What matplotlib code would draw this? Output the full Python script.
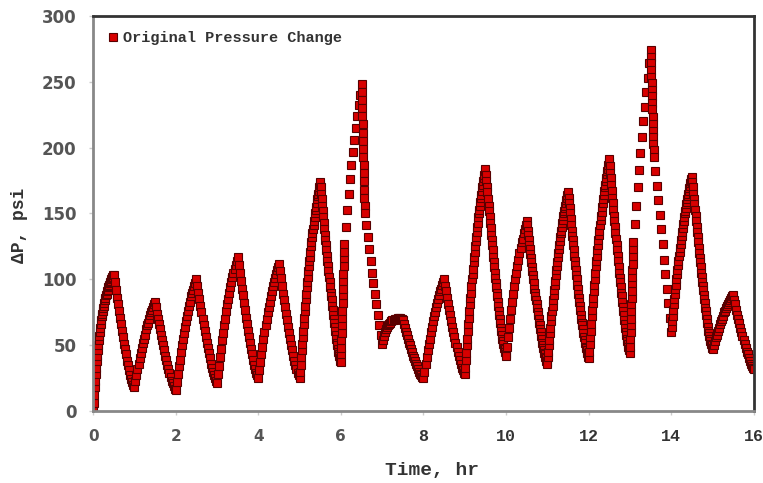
import numpy as np
import matplotlib.pyplot as plt
from matplotlib.font_manager import FontProperties

# Pressure change (psi) logged in half-hour rate periods.
# Each list holds the readings inside one period (start time in the name, hr);
# readings are evenly spaced within a period, except the four fast-logged ones.
dp_start = 0
p00 = [6, 12, 18, 23, 28, 33, 38, 42, 46, 50, 54, 57, 60, 63, 66, 69, 72, 74, 76, 78,
       80, 82, 84, 86, 88, 89, 91, 92, 94, 95, 96, 97, 98, 99, 100, 101, 102, 102, 103, 103]
p05 = [98, 92, 86, 81, 76, 71, 66, 61, 56, 51, 47, 43, 38, 35, 31, 27, 24, 22, 20, 18]
p10 = [23, 27, 32, 36, 40, 44, 48, 52, 55, 58, 62, 65, 67, 70, 73, 75, 77, 79, 81, 83]
p15 = [79, 74, 70, 66, 62, 58, 54, 50, 46, 42, 39, 35, 32, 29, 26, 23, 21, 19, 17, 16]
p20 = [22, 28, 34, 39, 45, 50, 55, 59, 64, 68, 72, 76, 80, 83, 87, 90, 92, 95, 97, 100]
p25 = [95, 90, 85, 80, 75, 70, 65, 61, 56, 52, 48, 44, 40, 36, 33, 30, 27, 25, 23, 21]
p30 = [28, 34, 41, 47, 54, 59, 65, 70, 76, 81, 85, 90, 94, 98, 102, 105, 108, 111, 114, 117]
p35 = [111, 105, 99, 93, 88, 82, 77, 71, 66, 61, 56, 52, 47, 43, 39, 35, 32, 29, 27, 25]
p40 = [31, 37, 43, 49, 55, 60, 65, 70, 75, 79, 83, 87, 91, 95, 98, 101, 104, 107, 109, 112]
p45 = [106, 101, 95, 89, 84, 79, 74, 69, 64, 59, 55, 50, 46, 42, 38, 35, 32, 29, 27, 25]
p50 = [30, 35, 41, 46, 51, 56, 61, 66, 71, 76, 80, 85, 89, 94, 98, 102, 106, 110, 114, 117,
       121, 125, 128, 132, 135, 138, 141, 144, 147, 150, 153, 155, 158, 161, 163, 165, 167, 170, 172, 174]
p55 = [170, 165, 161, 156, 152, 147, 143, 138, 134, 130, 126, 122, 118, 114, 110, 106, 102, 98, 94, 90,
       87, 84, 80, 77, 73, 70, 67, 64, 61, 58, 55, 52, 50, 47, 45, 43, 42, 40, 38, 37]
p60 = [43, 48, 54, 59, 65, 71, 76, 82, 88, 93, 99, 104, 110, 116, 121, 127,
       140, 153, 165, 176, 187, 197, 206, 215, 224, 232, 240, 248]
p65 = [242, 236, 230, 224, 218, 211, 205, 199, 193, 187, 181, 175, 168, 162, 156, 150,
       141, 132, 123, 114, 105, 97, 89, 81, 73, 65, 58, 51]
p70 = [54, 57, 60, 62, 64, 65, 66, 67, 68, 69, 69, 70, 70, 70, 71, 71, 71, 70, 70, 69]
p75 = [66, 63, 60, 58, 55, 52, 50, 47, 45, 42, 40, 38, 36, 34, 32, 30, 28, 27, 26, 25]
p80 = [30, 36, 41, 46, 51, 55, 60, 64, 68, 72, 75, 79, 82, 85, 88, 91, 93, 96, 98, 100]
p85 = [95, 91, 86, 81, 77, 73, 68, 64, 60, 56, 52, 49, 45, 42, 39, 36, 33, 31, 29, 28]
p90 = [33, 39, 44, 50, 55, 61, 66, 71, 76, 81, 86, 90, 95, 100, 104, 108, 113, 117, 121, 125,
       129, 132, 136, 140, 143, 147, 150, 153, 156, 159, 162, 164, 167, 170, 172, 175, 177, 179, 182, 184]
p95 = [179, 175, 170, 166, 161, 156, 152, 147, 143, 139, 134, 130, 126, 122, 117, 113, 109, 105, 101, 97,
       94, 90, 87, 83, 80, 76, 73, 70, 67, 63, 61, 58, 55, 53, 51, 48, 47, 45, 43, 42]
p100 = [49, 56, 63, 70, 77, 83, 89, 95, 100, 105, 110, 115, 120, 124, 128, 131, 135, 138, 141, 144]
p105 = [141, 137, 134, 130, 126, 123, 119, 116, 113, 109, 106, 103, 100, 97, 93, 90, 87, 84, 81, 78,
        75, 73, 70, 67, 65, 62, 60, 57, 55, 52, 50, 48, 46, 44, 43, 41, 40, 38, 37, 36]
p110 = [41, 45, 50, 54, 59, 63, 68, 72, 76, 80, 84, 88, 92, 96, 99, 103, 107, 110, 113, 117,
        120, 123, 126, 129, 132, 135, 137, 140, 143, 145, 148, 150, 152, 154, 156, 158, 160, 162, 164, 166]
p115 = [162, 158, 154, 150, 146, 141, 137, 133, 130, 126, 122, 118, 114, 111, 107, 103, 100, 96, 93, 89,
        86, 83, 80, 77, 73, 70, 67, 65, 62, 59, 56, 54, 52, 49, 48, 46, 44, 43, 41, 40]
p120 = [45, 51, 56, 61, 66, 72, 77, 82, 86, 91, 96, 100, 105, 110, 114, 118, 122, 126, 130, 134,
        137, 141, 145, 148, 151, 155, 158, 161, 164, 167, 170, 172, 175, 177, 180, 182, 184, 187, 189, 191]
p125 = [186, 181, 177, 172, 167, 162, 158, 153, 148, 144, 140, 135, 131, 126, 122, 118, 114, 109, 105, 101,
        98, 94, 90, 87, 83, 79, 76, 73, 69, 66, 63, 60, 58, 55, 53, 51, 49, 47, 46, 44]
p130 = [49, 55, 60, 65, 70, 76, 81, 86, 91, 97, 102, 107, 112, 118, 123, 128,
        142, 156, 170, 183, 196, 208, 220, 231, 242, 253, 264, 274]
p135 = [269, 264, 259, 254, 249, 244, 239, 234, 229, 223, 218, 213, 208, 203, 198, 193,
        182, 171, 160, 149, 138, 127, 115, 104, 93, 82, 71, 60]
p140 = [64, 68, 72, 77, 81, 85, 89, 93, 96, 100, 104, 107, 111, 114, 118, 121, 124, 127, 130, 133,
        136, 139, 142, 144, 147, 150, 152, 154, 157, 159, 161, 163, 165, 167, 169, 171, 173, 175, 176, 178]
p145 = [174, 170, 165, 161, 157, 153, 148, 144, 140, 136, 132, 128, 124, 120, 116, 113, 109, 105, 102, 98,
        95, 92, 88, 85, 82, 78, 76, 73, 70, 67, 64, 61, 59, 57, 55, 53, 51, 50, 48, 47]
p150 = [50, 53, 56, 58, 61, 63, 66, 68, 70, 72, 75, 76, 78, 80, 81, 83, 84, 86, 87, 88]
p155 = [84, 81, 77, 73, 70, 67, 63, 60, 57, 54, 51, 48, 45, 43, 40, 38, 36, 34, 33, 32]

# time (hr) after period start for the fast-logged periods
fast_offsets = [0.005, 0.01, 0.015, 0.02, 0.025, 0.03, 0.035, 0.04, 0.045, 0.05, 0.055, 0.06,
                0.065, 0.07, 0.075, 0.08, 0.115, 0.15, 0.185, 0.22, 0.255, 0.29, 0.325, 0.36,
                0.395, 0.43, 0.465, 0.5]
period = 0.5

periods = [p00, p05, p10, p15, p20, p25, p30, p35, p40, p45, p50, p55, p60, p65, p70, p75,
           p80, p85, p90, p95, p100, p105, p110, p115, p120, p125, p130, p135, p140, p145, p150, p155]

x_ticks = [0, 2, 4, 6, 8, 10, 12, 14, 16]
y_ticks = [0, 50, 100, 150, 200, 250, 300]

time = [0.0]
dp = [dp_start]
for k, vals in enumerate(periods):
    if len(vals) == len(fast_offsets):
        offs = np.array(fast_offsets)
    else:
        offs = period * np.arange(1, len(vals) + 1) / len(vals)
    time.extend(k * period + offs)
    dp.extend(vals)

mono = FontProperties(family='Liberation Mono', weight='bold', size=12)
sans = FontProperties(family='DejaVu Sans', weight='bold', size=12)

fig = plt.figure(figsize=(7.63, 4.83), dpi=100)
ax = fig.add_axes([0.122, 0.149, 0.866, 0.818])

ax.plot(time, dp, linestyle='none', marker='s', markersize=5.4,
        markerfacecolor='#d80000', markeredgecolor='#580000', markeredgewidth=0.8,
        label='Original Pressure Change')

ax.set_xlim(0, 16)
ax.set_ylim(0, 300)
ax.set_xticks(x_ticks)
ax.set_yticks(y_ticks)
ax.set_yticklabels([str(v) for v in y_ticks], fontproperties=sans, color='#555555')
ax.set_xticklabels([str(v) for v in x_ticks])
for v, lab in zip(x_ticks, ax.get_xticklabels()):
    if v <= 6:
        lab.set_fontproperties(FontProperties(family='DejaVu Sans', weight='bold', size=11))
        lab.set_color('#555555')
    else:
        lab.set_fontproperties(mono)
        lab.set_color('#333333')

ax.tick_params(axis='both', direction='out', length=3, width=1, color='#cccccc')
ax.tick_params(axis='x', pad=10)
ax.tick_params(axis='y', pad=9)

for side in ['left', 'bottom']:
    ax.spines[side].set_color('#888888')
    ax.spines[side].set_linewidth(2)
for side in ['top', 'right']:
    ax.spines[side].set_color('#333333')
    ax.spines[side].set_linewidth(2)

ax.set_xlabel('Time, hr', fontproperties=FontProperties(family='Liberation Mono', weight='bold', size=14),
              color='#333333')
ax.xaxis.set_label_coords(0.513, -0.128)
ax.set_ylabel('ΔP, psi', fontproperties=FontProperties(family='Liberation Mono', weight='bold', size=13),
              color='#333333')
ax.yaxis.set_label_coords(-0.098, 0.471)

ax.legend(loc='upper left', frameon=False, markerscale=1.1, handlelength=0.6, handletextpad=0.35,
          borderaxespad=0.6, prop=FontProperties(family='Liberation Mono', weight='bold', size=11),
          labelcolor='#333333')

fig.savefig('out.png', dpi=100)
